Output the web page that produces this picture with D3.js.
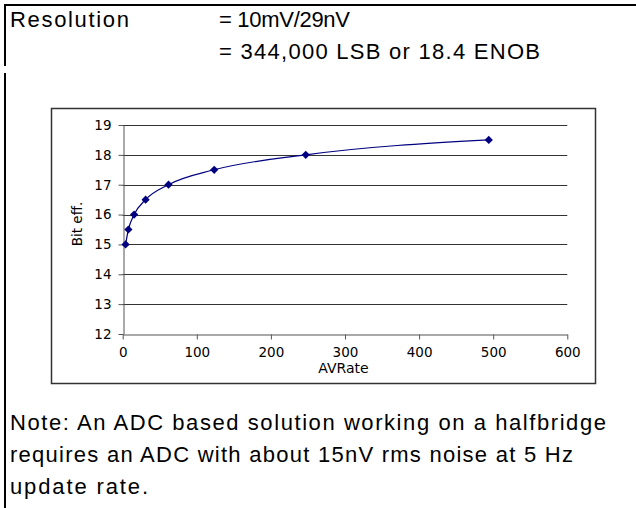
<!DOCTYPE html>
<html>
<head>
<meta charset="utf-8">
<script src="https://cdn.jsdelivr.net/npm/d3@7"></script>
<style>
  body { margin: 0; background: #fff; }
  svg { display: block; }
</style>
</head>
<body>
<div id="Chart"></div>
<script>
// data
var avRate = [3.9, 7.7, 15.4, 30.9, 61.8, 123.5, 247, 494];
var bitEff = [15, 15.5, 16, 16.5, 17, 17.5, 18, 18.5];
var xTicks = [0, 100, 200, 300, 400, 500, 600];
var yTicks = [12, 13, 14, 15, 16, 17, 18, 19];
var headLines = ["Resolution", "= 10mV/29nV", "= 344,000 LSB or 18.4 ENOB"];
var noteLines = [
  "Note: An ADC based solution working on a halfbridge",
  "requires an ADC with about 15nV rms noise at 5 Hz",
  "update rate."
];

var W = 636, H = 508;
var svg = d3.select("#Chart")
    .append("svg")
    .attr("width", W)
    .attr("height", H);

// page frame (top line + broken left line)
svg.append("line").attr("x1", 4).attr("x2", W).attr("y1", 5).attr("y2", 5)
    .attr("stroke", "#000").attr("stroke-width", 2);
svg.append("line").attr("x1", 5).attr("x2", 5).attr("y1", 4).attr("y2", 66)
    .attr("stroke", "#000").attr("stroke-width", 2);
svg.append("line").attr("x1", 5).attr("x2", 5).attr("y1", 73).attr("y2", H)
    .attr("stroke", "#000").attr("stroke-width", 2);

var bodyFont = "Liberation Sans";
function bodyText(str, x, y, len) {
  svg.append("text")
    .attr("x", x).attr("y", y)
    .attr("textLength", len)
    .attr("lengthAdjust", "spacing")
    .style("font-family", bodyFont)
    .style("font-size", "22px")
    .style("fill", "#000")
    .text(str);
}
bodyText(headLines[0], 10, 27, 119);
bodyText(headLines[1], 219, 27, 131);
bodyText(headLines[2], 219, 59, 321);
bodyText(noteLines[0], 10, 430, 596);
bodyText(noteLines[1], 10, 462, 563);
bodyText(noteLines[2], 10, 493.5, 138);

// chart frame
svg.append("rect")
    .attr("x", 51.5).attr("y", 108.5)
    .attr("width", 544).attr("height", 275)
    .attr("fill", "none")
    .attr("stroke", "#333")
    .attr("stroke-width", 1.5);

var x = d3.scaleLinear().domain([0, 600]).range([122.7, 567.3]);
var y = d3.scaleLinear().domain([12, 19]).range([334, 125]);

var chart = svg.append("g");

// gridlines
chart.selectAll(".grid")
    .data(yTicks.filter(function(d) { return d > 12; }))
    .enter().append("line")
    .attr("class", "grid")
    .attr("x1", x(0)).attr("x2", x(600))
    .attr("y1", function(d) { return Math.round(y(d)) + 0.5; })
    .attr("y2", function(d) { return Math.round(y(d)) + 0.5; })
    .attr("stroke", "#333")
    .attr("stroke-width", 1);

var tickFont = "DejaVu Sans";
var xAxis = chart.append("g")
    .attr("transform", "translate(0," + (Math.round(y(12)) + 0.5) + ")")
    .call(d3.axisBottom(x).tickValues(xTicks).tickSize(5).tickPadding(8).tickSizeOuter(0));
var yAxis = chart.append("g")
    .attr("transform", "translate(" + (Math.round(x(0)) + 0.5) + ",0)")
    .call(d3.axisLeft(y).tickValues(yTicks).tickFormat(d3.format("d"))
      .tickSize(5).tickPadding(7).tickSizeOuter(0));

[xAxis, yAxis].forEach(function(ax) {
  ax.selectAll("path, line").attr("stroke", "#555");
  ax.selectAll("text")
    .style("font-family", tickFont)
    .style("font-size", "13.5px")
    .style("fill", "#000");
});

// axis titles
chart.append("text")
    .attr("x", 343.5).attr("y", 373)
    .style("text-anchor", "middle")
    .style("font-family", tickFont)
    .style("font-size", "14px")
    .text("AVRate");
chart.append("text")
    .attr("transform", "translate(81.5,224) rotate(-90)")
    .style("text-anchor", "middle")
    .style("font-family", tickFont)
    .style("font-size", "13.5px")
    .text("Bit eff.");

// data line
var pts = avRate.map(function(d, i) { return [d, bitEff[i]]; });
var line = d3.line()
    .x(function(d) { return x(d[0]); })
    .y(function(d) { return y(d[1]); })
    .curve(d3.curveMonotoneX);
chart.append("path")
    .datum(pts)
    .attr("d", line)
    .attr("fill", "none")
    .attr("stroke", "#000080")
    .attr("stroke-width", 1.2);

// square markers turned 45deg, like the Excel diamonds
chart.selectAll(".pt")
    .data(pts)
    .enter().append("path")
    .attr("class", "pt")
    .attr("transform", function(d) { return "translate(" + x(d[0]) + "," + y(d[1]) + ") rotate(45)"; })
    .attr("d", d3.symbol().type(d3.symbolSquare).size(34))
    .attr("fill", "#000080");
</script>
</body>
</html>
